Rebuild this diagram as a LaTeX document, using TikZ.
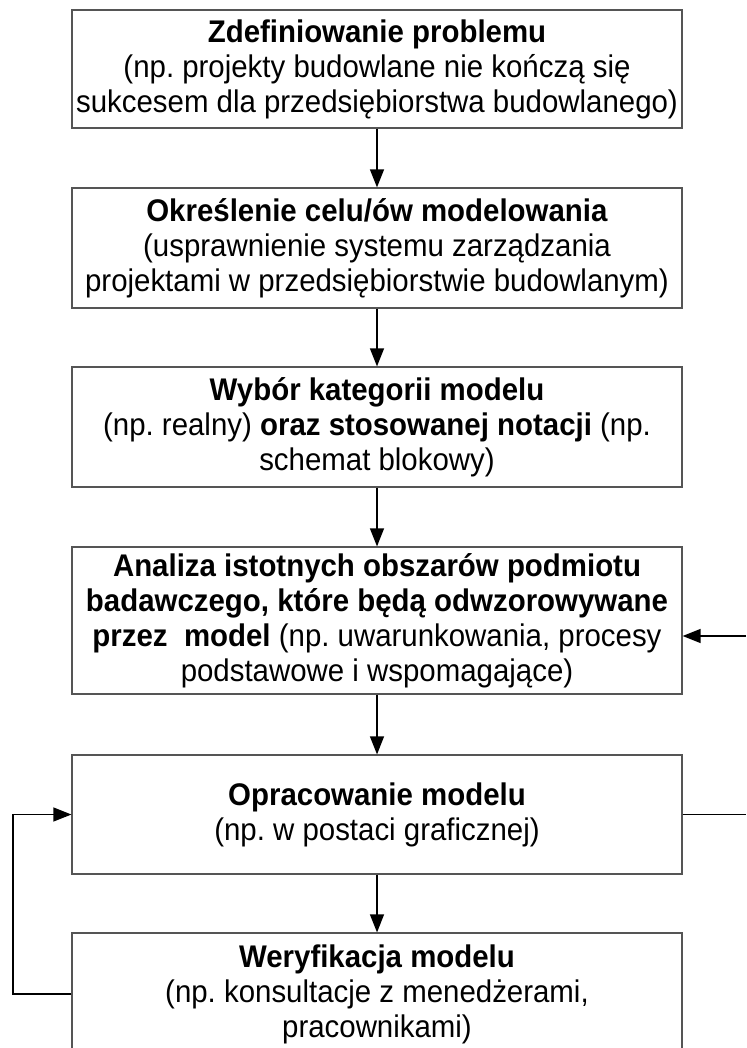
\documentclass[tikz,border=0pt]{standalone}
\usepackage{fontspec}
\setmainfont[FakeStretch=0.94]{Liberation Sans}
\usetikzlibrary{arrows.meta,calc}
\definecolor{boxline}{HTML}{555555}
\frenchspacing
\tikzset{
  stepbox/.style={draw=boxline, line width=1.2pt, fill=white, minimum width=610pt,
    inner sep=0pt, align=center, font=\fontsize{31.3}{35}\selectfont,
    execute at begin node={\rule{0pt}{31pt}}},
  arr/.style={draw=black, line width=1.3pt, -{Triangle[length=18pt,width=14pt]}},
  ln/.style={draw=black, line width=1.3pt}
}
\begin{document}
\begin{tikzpicture}[x=1pt,y=-1pt]
\clip (0,0) rectangle (746,1048);
\fill[white] (0,0) rectangle (746,1048);
\node[stepbox, minimum height=118pt] (b1) at (377,69)
  {\textbf{Zdefiniowanie problemu}\\(np. projekty budowlane nie kończą się\\sukcesem dla przedsiębiorstwa budowlanego)};
\node[stepbox, minimum height=120pt] (b2) at (377,248)
  {\textbf{Określenie celu/ów modelowania}\\(usprawnienie systemu zarządzania\\projektami w przedsiębiorstwie budowlanym)};
\node[stepbox, minimum height=120pt] (b3) at (377,427)
  {\textbf{Wybór kategorii modelu}\\(np. realny) \textbf{oraz stosowanej notacji} (np.\\schemat blokowy)};
\node[stepbox, minimum height=147pt] (b4) at (377,620.5)
  {\textbf{Analiza istotnych obszarów podmiotu}\\\textbf{badawczego, które będą odwzorowywane}\\\textbf{przez\ \ model} (np. uwarunkowania, procesy\\podstawowe i wspomagające)};
\node[stepbox, minimum height=119pt] (b5) at (377,814.5)
  {\textbf{Opracowanie modelu}\\(np. w postaci graficznej)};
\node[stepbox, minimum height=122pt] (b6) at (377,994)
  {\textbf{Weryfikacja modelu}\\(np. konsultacje z menedżerami,\\pracownikami)};
\draw[arr] (b1.south) -- (b2.north);
\draw[arr] (b2.south) -- (b3.north);
\draw[arr] (b3.south) -- (b4.north);
\draw[arr] (b4.south) -- (b5.north);
\draw[arr] (b5.south) -- (b6.north);
\coordinate (r4) at (746,636);
\coordinate (r5) at (746,814.5);
\draw[arr] (r4) -- (b4.east |- r4);
\draw[ln] (b5.east) -- (r5);
\coordinate (loop) at (13,900);
\draw[arr] (b6.west) -| (loop) |- (b5.west);
\end{tikzpicture}
\end{document}
